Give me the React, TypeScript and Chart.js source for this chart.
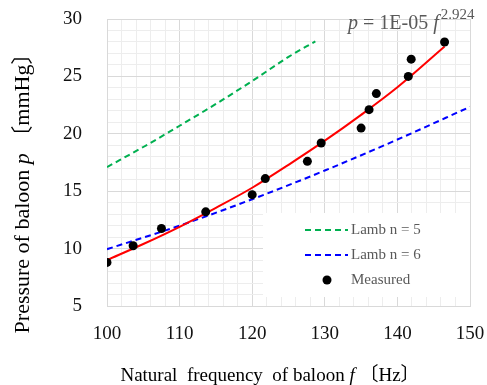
import React, { useEffect, useRef } from 'react';
import { Chart, registerables } from 'chart.js';
Chart.register(...registerables);

// Measured points
const measuredF = [100, 103.6, 107.5, 113.6, 120.0, 121.8, 127.6, 129.5, 135.0, 136.1, 137.1, 141.5, 141.9, 146.5];
const measuredP = [8.8, 10.25, 11.75, 13.2, 14.7, 16.1, 17.6, 19.2, 20.5, 22.1, 23.5, 25.0, 26.5, 28.0];
// Power trend line
const fitF = [100, 105, 110, 115, 120, 125, 130, 135, 140, 146.5];
const fitP = [9.0, 10.4, 11.9, 13.55, 15.3, 17.3, 19.4, 21.65, 24.05, 27.6];
// Lamb n = 5
const lamb5F = [100, 105, 110, 115, 120, 125, 128.7];
const lamb5P = [17.1, 18.85, 20.7, 22.6, 24.6, 26.7, 28.05];
// Lamb n = 6
const lamb6F = [100, 110, 120, 130, 140, 150];
const lamb6P = [9.95, 12.0, 14.3, 16.8, 19.5, 22.35];

const legendLabels = ['Lamb n = 5', 'Lamb n = 6', 'Measured'];
const xTicks = [100, 110, 120, 130, 140, 150];
const yTicks = [5, 10, 15, 20, 25, 30];

const SERIF = '"Liberation Serif", "Times New Roman", "Noto Sans CJK JP", serif';

type Seg = { t: string; italic?: boolean; size?: number; dy?: number };

function segWidth(ctx: CanvasRenderingContext2D, segs: Seg[], size: number) {
  let w = 0;
  for (const s of segs) {
    ctx.font = `${s.italic ? 'italic ' : ''}${s.size || size}px ${SERIF}`;
    w += ctx.measureText(s.t).width;
  }
  return w;
}

function drawRich(ctx: CanvasRenderingContext2D, segs: Seg[], x: number, y: number, size: number, color: string) {
  let cx = x;
  ctx.fillStyle = color;
  ctx.textBaseline = 'alphabetic';
  ctx.textAlign = 'left';
  for (const s of segs) {
    ctx.font = `${s.italic ? 'italic ' : ''}${s.size || size}px ${SERIF}`;
    ctx.fillText(s.t, cx, y + (s.dy || 0));
    cx += ctx.measureText(s.t).width;
  }
  return cx;
}

const overlay = {
  id: 'overlay',
  afterDatasetsDraw(chart: any) {
    const ctx: CanvasRenderingContext2D = chart.ctx;
    ctx.save();
    // legend box
    ctx.fillStyle = '#ffffff';
    ctx.fillRect(263, 213, 207, 84);
    const ds = chart.data.datasets;
    const rows = [230, 255, 280];
    for (let i = 0; i < 3; i++) {
      const y = rows[i];
      const d = ds.find((q: any) => q.label === legendLabels[i]);
      if (i < 2) {
        ctx.strokeStyle = d.borderColor;
        ctx.lineWidth = d.borderWidth;
        ctx.setLineDash(d.borderDash);
        ctx.beginPath();
        ctx.moveTo(305, y);
        ctx.lineTo(348, y);
        ctx.stroke();
        ctx.setLineDash([]);
      } else {
        ctx.fillStyle = d.backgroundColor;
        ctx.beginPath();
        ctx.arc(327, y, d.pointRadius, 0, Math.PI * 2);
        ctx.fill();
      }
      ctx.fillStyle = '#595959';
      ctx.font = `15px ${SERIF}`;
      ctx.textAlign = 'left';
      ctx.textBaseline = 'middle';
      ctx.fillText(legendLabels[i], 351, y);
    }
    // equation
    const end = drawRich(ctx, [{ t: 'p', italic: true }, { t: ' = 1E-05 ' }, { t: 'f', italic: true }], 348, 29, 20, '#595959');
    drawRich(ctx, [{ t: '2.924' }], end + 2, 19, 15, '#595959');
    ctx.restore();
  },
  afterDraw(chart: any) {
    const ctx: CanvasRenderingContext2D = chart.ctx;
    ctx.save();
    // x title
    const xs: Seg[] = [{ t: 'Natural  frequency  of baloon ' }, { t: 'f', italic: true }, { t: ' 〔Hz〕' }];
    const xw = segWidth(ctx, xs, 19);
    drawRich(ctx, xs, 270 - xw / 2, 381, 19, '#000000');
    // y title
    const ys: Seg[] = [{ t: 'Pressure of baloon ' }, { t: 'p', italic: true }, { t: ' 〔mmHg〕' }];
    const yw = segWidth(ctx, ys, 22);
    ctx.translate(29, 188);
    ctx.rotate(-Math.PI / 2);
    drawRich(ctx, ys, -yw / 2, 0, 22, '#000000');
    ctx.restore();
  },
};

function noPad(s: any) {
  s.paddingTop = 0;
  s.paddingBottom = 0;
  s.paddingLeft = 0;
  s.paddingRight = 0;
}

export default function App() {
  const ref = useRef<HTMLCanvasElement | null>(null);
  useEffect(() => {
    if (!ref.current) return;
    const tickFont = { family: SERIF, size: 19 };
    const chart = new Chart(ref.current, {
      type: 'scatter',
      data: {
        datasets: [
          {
            label: 'Measured',
            data: measuredF.map((f, i) => ({ x: f, y: measuredP[i] })),
            backgroundColor: '#000000',
            borderColor: '#000000',
            pointRadius: 4.5,
            pointBorderWidth: 0,
            showLine: false,
            order: 0,
          },
          {
            label: 'Power fit',
            data: fitF.map((f, i) => ({ x: f, y: fitP[i] })),
            borderColor: '#ff0000',
            backgroundColor: '#ff0000',
            borderWidth: 2,
            pointRadius: 0,
            showLine: true,
            cubicInterpolationMode: 'monotone',
            order: 1,
          },
          {
            label: 'Lamb n = 6',
            data: lamb6F.map((f, i) => ({ x: f, y: lamb6P[i] })),
            borderColor: '#0000ff',
            backgroundColor: '#0000ff',
            borderWidth: 2,
            borderDash: [6, 4],
            pointRadius: 0,
            showLine: true,
            cubicInterpolationMode: 'monotone',
            order: 2,
          },
          {
            label: 'Lamb n = 5',
            data: lamb5F.map((f, i) => ({ x: f, y: lamb5P[i] })),
            borderColor: '#00b050',
            backgroundColor: '#00b050',
            borderWidth: 2,
            borderDash: [6, 4],
            pointRadius: 0,
            showLine: true,
            cubicInterpolationMode: 'monotone',
            order: 3,
          },
        ] as any,
      },
      options: {
        responsive: false,
        animation: false,
        layout: { padding: { top: 19, right: 17, left: 0, bottom: 0 } },
        plugins: { legend: { display: false }, tooltip: { enabled: false }, title: { display: false } },
        scales: {
          x: {
            type: 'linear',
            min: 100,
            max: 150,
            afterFit: (s: any) => { s.height = 79; noPad(s); },
            border: { display: true, color: '#d9d9d9' },
            grid: {
              drawTicks: false,
              color: (c: any) => (c.tick && xTicks.includes(c.tick.value) ? '#d9d9d9' : '#ededed'),
            },
            ticks: {
              stepSize: 2,
              autoSkip: false,
              maxRotation: 0,
              padding: 17,
              color: '#111111',
              font: tickFont,
              callback: (v: any) => (xTicks.includes(Number(v)) ? String(v) : ''),
            },
          },
          y: {
            type: 'linear',
            min: 5,
            max: 30,
            afterFit: (s: any) => { s.width = 107; noPad(s); },
            border: { display: true, color: '#d9d9d9' },
            grid: {
              drawTicks: false,
              color: (c: any) => (c.tick && yTicks.includes(c.tick.value) ? '#d9d9d9' : '#ededed'),
            },
            ticks: {
              stepSize: 1,
              autoSkip: false,
              padding: 25,
              color: '#111111',
              font: tickFont,
              callback: (v: any) => (yTicks.includes(Number(v)) ? String(v) : ''),
            },
          },
        },
      } as any,
      plugins: [overlay],
    });
    return () => chart.destroy();
  }, []);
  return (
    <div style={{ position: 'fixed', left: 0, top: 0, width: 487, height: 385, background: '#ffffff' }}>
      <canvas ref={ref} width={487} height={385} />
    </div>
  );
}
